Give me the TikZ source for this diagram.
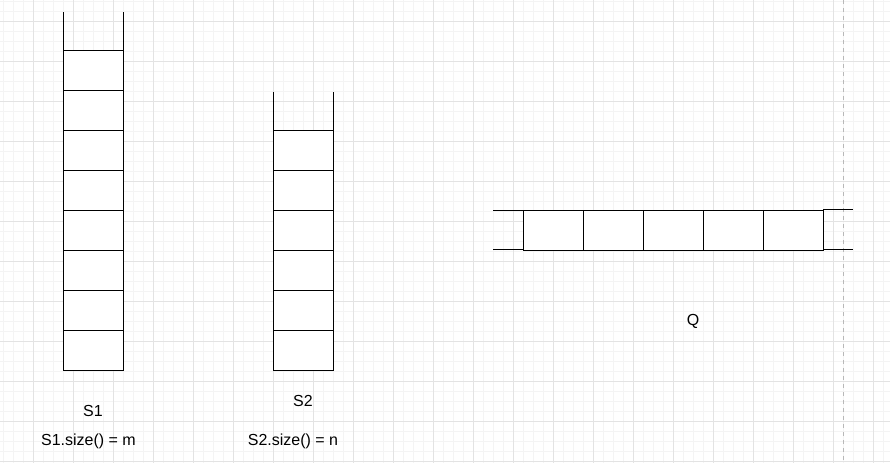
\documentclass[tikz,border=0pt]{standalone}
\usepackage{fontspec}
\setmainfont{Liberation Sans}
\definecolor{minorgrid}{HTML}{F4F4F4}
\definecolor{majorgrid}{HTML}{E3E3E3}
\definecolor{dashgray}{HTML}{B8B8B8}
\tikzset{
  cell/.style={draw=black, fill=white, line width=0.75pt, minimum width=45pt, minimum height=30pt, inner sep=0pt, outer sep=0pt},
  wall/.style={draw=black, line width=0.75pt},
  lbl/.style={font=\fontsize{12}{14}\selectfont, inner sep=0pt, text=black}
}
\begin{document}
\begin{tikzpicture}[x=0.75pt, y=-0.75pt]
\useasboundingbox (0,0) rectangle (890,463);
\fill[white] (0,0) rectangle (890,463);
% minor grid
\foreach \gx in {3,13,...,883} \draw[minorgrid, line width=0.75pt] (\gx,0) -- (\gx,463);
\foreach \gy in {2,12,...,462} \draw[minorgrid, line width=0.75pt] (0,\gy) -- (890,\gy);
% major grid
\foreach \gx in {33,73,...,873} \draw[majorgrid, line width=0.75pt] (\gx,0) -- (\gx,463);
\foreach \gy in {22,62,...,462} \draw[majorgrid, line width=0.75pt] (0,\gy) -- (890,\gy);
% dashed page border
\draw[dashgray, line width=0.75pt, dash pattern=on 3pt off 3pt] (843,0) -- (843,463);
% stack S1
\foreach \i [evaluate=\i as \cy using 31+40*\i] in {1,...,8}
  \node[cell] (s1c\i) at (93,\cy) {};
\coordinate (s1tl) at (63,12);
\coordinate (s1tr) at (123,12);
\draw[wall] (s1c1.north west) -- (s1tl);
\draw[wall] (s1c1.north east) -- (s1tr);
% stack S2
\foreach \i [evaluate=\i as \cy using 111+40*\i] in {1,...,6}
  \node[cell] (s2c\i) at (303,\cy) {};
\coordinate (s2tl) at (273,92);
\coordinate (s2tr) at (333,92);
\draw[wall] (s2c1.north west) -- (s2tl);
\draw[wall] (s2c1.north east) -- (s2tr);
% queue Q
\foreach \i [evaluate=\i as \cx using 493+60*\i] in {1,...,5}
  \node[cell] (qc\i) at (\cx,231) {};
\coordinate (qlt) at (493,211);
\coordinate (qlb) at (493,250);
\coordinate (qrt) at (853,210);
\coordinate (qrb) at (853,250);
\draw[wall] (qc1.north west) -- (qlt);
\draw[wall] ([yshift=0.75pt]qc1.south west) -- (qlb);
\draw[wall] ([yshift=0.75pt]qc5.north east) -- (qrt);
\draw[wall] ([yshift=0.75pt]qc5.south east) -- (qrb);
% labels
\node[lbl] (s1name) at (93,411) {S1};
\node[lbl] (s1size) at (88.5,441) {S1.size() = m};
\node[lbl] (s2name) at (303,401) {S2};
\node[lbl] (s2size) at (293,441) {S2.size() = n};
\node[lbl] (qname) at (693,321) {Q};
\end{tikzpicture}
\end{document}
